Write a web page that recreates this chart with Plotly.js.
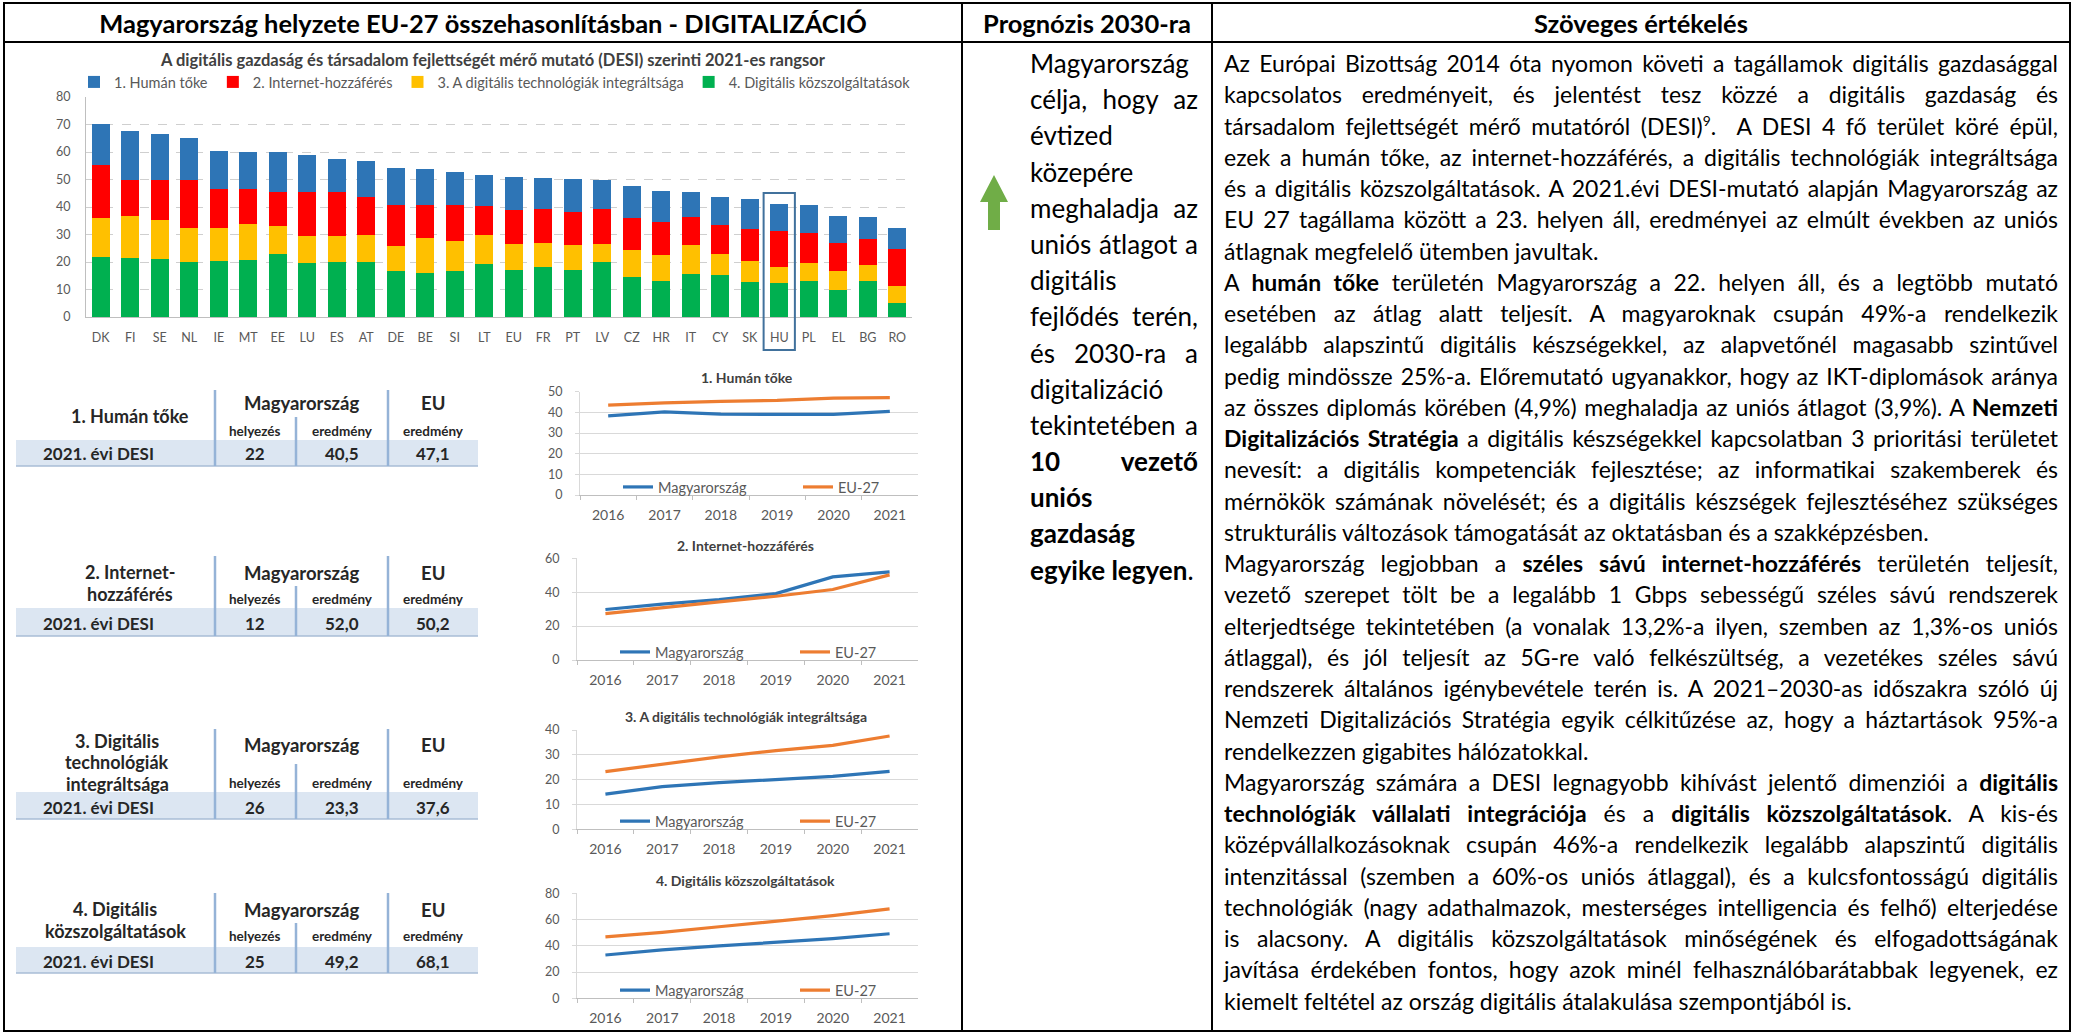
<!DOCTYPE html>
<html lang="hu">
<head>
<meta charset="utf-8">
<title>Magyarország helyzete EU-27 összehasonlításban - DIGITALIZÁCIÓ</title>
<script src="https://cdn.plot.ly/plotly-3.0.1.min.js"></script>
<style>
html,body{margin:0;padding:0;background:#fff;}
#page{position:relative;width:2074px;height:1035px;overflow:hidden;background:#fff;font-family:Lato,"Open Sans",sans-serif;}
#plot{position:absolute;left:0;top:0;width:2074px;height:1035px;}
#overlay{position:absolute;left:0;top:0;width:2074px;height:1035px;pointer-events:none;}
.rule{position:absolute;background:#000;}
.hdr{position:absolute;top:3px;height:39px;display:flex;align-items:center;justify-content:center;font-weight:700;white-space:nowrap;color:#000;}
.col{position:absolute;color:#000;}
.ln{text-align:justify;text-align-last:justify;overflow:visible;}
.ln.last{text-align-last:left;}
.measure .ln{white-space:nowrap;text-align:left !important;text-align-last:left !important;}
sup{font-size:0.6em;line-height:0;vertical-align:super;}
</style>
</head>
<body>
<div id="page">
  <div id="plot"></div>
  <div id="overlay">
    <div class="rule" style="left:3px;top:2px;width:2068px;height:2px"></div>
    <div class="rule" style="left:3px;top:1030px;width:2068px;height:2px"></div>
    <div class="rule" style="left:3px;top:2px;width:2px;height:1030px"></div>
    <div class="rule" style="left:2069px;top:2px;width:2px;height:1030px"></div>
    <div class="rule" style="left:3px;top:41px;width:2068px;height:2px"></div>
    <div class="rule" style="left:961px;top:2px;width:2px;height:1030px"></div>
    <div class="rule" style="left:1211px;top:2px;width:2px;height:1030px"></div>
    <div class="hdr" style="left:5px;width:956px"><span>Magyarország helyzete EU-27 összehasonlításban - DIGITALIZÁCIÓ</span></div>
    <div class="hdr" style="left:963px;width:248px"><span>Prognózis 2030-ra</span></div>
    <div class="hdr" style="left:1213px;width:856px"><span>Szöveges értékelés</span></div>
    <svg style="position:absolute;left:975px;top:170px" width="40" height="66" viewBox="975 170 40 66">
      <polygon points="994,175 980,202 988,202 988,230 1000,230 1000,202 1008,202" fill="#70AD47"/>
    </svg>
    <div id="mid" class="col" style="left:1030px;top:45px;width:168px"></div>
    <div id="txt" class="col" style="left:1224px;top:48px;width:834px"></div>
  </div>
</div>
<script>
// ---------------- DATA ----------------
const countries = ["DK","FI","SE","NL","IE","MT","EE","LU","ES","AT","DE","BE","SI","LT","EU","FR","PT","LV","CZ","HR","IT","CY","SK","HU","PL","EL","BG","RO"];
const humanCapital   = [14.9,17.7,16.5,15.2,13.6,13.3,14.6,13.7,12.1,13.2,13.4,13.1,12.1,11.4,11.8,11.4,12.0,10.6,11.7,11.2, 9.1,10.2,10.9,10.1,10.0, 9.7, 8.2, 7.6];
const connectivity   = [19.1,13.1,14.7,17.7,14.4,13.0,12.2,16.0,15.8,13.8,15.0,12.0,13.2,10.5,12.6,12.3,12.0,12.6,11.7,12.2,10.3,10.4,11.5,13.0,10.9,10.3, 9.3,13.5];
const integration    = [14.3,15.3,14.2,12.4,12.1,12.9,10.1, 9.7, 9.6,10.0, 8.8,12.7,10.6,10.5, 9.4, 8.8, 9.1, 6.7, 9.6, 9.4,10.4, 7.8, 7.6, 5.8, 6.7, 6.7, 5.7, 5.9];
const publicServices = [21.8,21.4,21.1,19.9,20.2,20.8,23.0,19.6,19.9,19.9,16.9,16.0,16.9,19.4,17.0,18.1,17.2,19.9,14.6,13.0,15.7,15.1,12.8,12.3,13.0,10.0,13.2, 5.2];
const segmentNames = ["1. Humán tőke","2. Internet-hozzáférés","3. A digitális technológiák integráltsága","4. Digitális közszolgáltatások"];
const barTitle = "A digitális gazdaság és társadalom fejlettségét mérő mutató (DESI) szerinti 2021-es rangsor";
const highlightCountry = "HU";

const years = ["2016","2017","2018","2019","2020","2021"];
const lineTitles = ["1. Humán tőke","2. Internet-hozzáférés","3. A digitális technológiák integráltsága","4. Digitális közszolgáltatások"];
const seriesNames = ["Magyarország","EU-27"];
const huHuman    = [38.3, 40.2, 39.1, 39.0, 39.0, 40.5];
const euHuman    = [43.5, 44.6, 45.3, 45.8, 46.9, 47.1];
const huInternet = [29.8, 33.0, 35.7, 39.2, 49.0, 52.0];
const euInternet = [27.4, 31.0, 34.3, 37.6, 41.6, 50.2];
const huIntegr   = [14.2, 17.2, 18.8, 20.2, 21.3, 23.3];
const euIntegr   = [23.2, 26.3, 29.2, 31.7, 33.8, 37.6];
const huPublic   = [33.0, 36.9, 39.9, 42.5, 45.5, 49.2];
const euPublic   = [46.8, 50.2, 54.5, 58.5, 63.0, 68.1];

const tableLabels = ["1. Humán tőke","2. Internet-|hozzáférés","3. Digitális|technológiák|integráltsága","4. Digitális|közszolgáltatások"];
const tableRowLabel = "2021. évi DESI";
const tableHead = ["Magyarország","EU"];
const tableSub = ["helyezés","eredmény","eredmény"];
const huRank  = ["22","12","26","25"];
const huScore = ["40,5","52,0","23,3","49,2"];
const euScore = ["47,1","50,2","37,6","68,1"];

const progLines = ["Magyarország","célja, hogy az","évtized","közepére","meghaladja az","uniós átlagot a","digitális","fejlődés terén,","és 2030-ra a","digitalizáció","tekintetében a","<b>10 vezető</b>","<b>uniós</b>","<b>gazdaság</b>","<b>egyike legyen</b>."];
const evalLines = [
 "Az Európai Bizottság 2014 óta nyomon követi a tagállamok digitális gazdasággal",
 "kapcsolatos eredményeit, és jelentést tesz közzé a digitális gazdaság és",
 "társadalom fejlettségét mérő mutatóról (DESI)<sup>9</sup>.&nbsp; A DESI 4 fő terület köré épül,",
 "ezek a humán tőke, az internet-hozzáférés, a digitális technológiák integráltsága",
 "és a digitális közszolgáltatások. A 2021.évi DESI-mutató alapján Magyarország az",
 "EU 27 tagállama között a 23. helyen áll, eredményei az elmúlt években az uniós",
 "átlagnak megfelelő ütemben javultak.",
 "A <b>humán tőke</b> területén Magyarország a 22. helyen áll, és a legtöbb mutató",
 "esetében az átlag alatt teljesít. A magyaroknak csupán 49%-a rendelkezik",
 "legalább alapszintű digitális készségekkel, az alapvetőnél magasabb szintűvel",
 "pedig mindössze 25%-a. Előremutató ugyanakkor, hogy az IKT-diplomások aránya",
 "az összes diplomás körében (4,9%) meghaladja az uniós átlagot (3,9%). A <b>Nemzeti</b>",
 "<b>Digitalizációs Stratégia</b> a digitális készségekkel kapcsolatban 3 prioritási területet",
 "nevesít: a digitális kompetenciák fejlesztése; az informatikai szakemberek és",
 "mérnökök számának növelését; és a digitális készségek fejlesztéséhez szükséges",
 "strukturális változások támogatását az oktatásban és a szakképzésben.",
 "Magyarország legjobban a <b>széles sávú internet-hozzáférés</b> területén teljesít,",
 "vezető szerepet tölt be a legalább 1 Gbps sebességű széles sávú rendszerek",
 "elterjedtsége tekintetében (a vonalak 13,2%-a ilyen, szemben az 1,3%-os uniós",
 "átlaggal), és jól teljesít az 5G-re való felkészültség, a vezetékes széles sávú",
 "rendszerek általános igénybevétele terén is. A 2021–2030-as időszakra szóló új",
 "Nemzeti Digitalizációs Stratégia egyik célkitűzése az, hogy a háztartások 95%-a",
 "rendelkezzen gigabites hálózatokkal.",
 "Magyarország számára a DESI legnagyobb kihívást jelentő dimenziói a <b>digitális</b>",
 "<b>technológiák vállalati integrációja</b> és a <b>digitális közszolgáltatások</b>. A kis-és",
 "középvállalkozásoknak csupán 46%-a rendelkezik legalább alapszintű digitális",
 "intenzitással (szemben a 60%-os uniós átlaggal), és a kulcsfontosságú digitális",
 "technológiák (nagy adathalmazok, mesterséges intelligencia és felhő) elterjedése",
 "is alacsony. A digitális közszolgáltatások minőségének és elfogadottságának",
 "javítása érdekében fontos, hogy azok minél felhasználóbarátabbak legyenek, ez",
 "kiemelt feltétel az ország digitális átalakulása szempontjából is."
];
const evalParaEnds = [6,15,22,30];
const progParaEnds = [14];

// ---------------- TEXT COLUMNS ----------------
function buildCol(el, lines, lastIdx, lineH){
  el.classList.add('measure');
  el.innerHTML = lines.map((t,i)=>'<div class="ln'+(lastIdx.indexOf(i)>=0?' last':'')+'" style="height:'+lineH+'px;line-height:'+lineH+'px"><span>'+t+'</span></div>').join('');
}
function spanWidths(el){ return Array.from(el.querySelectorAll('.ln span')).map(s=>s.getBoundingClientRect().width); }
function squeeze(el, limit){
  el.querySelectorAll('.ln span').forEach(s=>{
    const w = s.getBoundingClientRect().width;
    if (w > limit){ const n = s.textContent.length; s.style.letterSpacing = ((limit-w)/n)+'px'; }
  });
}

(function(){
  const hs = document.querySelectorAll('.hdr span');
  hs.forEach(s=>s.style.fontSize='24px');
  const w0 = hs[0].getBoundingClientRect().width;
  const f = 24*768/w0;
  hs.forEach(s=>s.style.fontSize=f+'px');

  const txt = document.getElementById('txt');
  buildCol(txt, evalLines, evalParaEnds, 31.25);
  txt.style.fontSize='20px';
  let ws = spanWidths(txt).filter((w,i)=>evalParaEnds.indexOf(i)<0).sort((a,b)=>a-b);
  const median = ws[Math.floor(ws.length/2)];
  let ft = Math.min(20*0.965*834/median, 23);
  txt.style.fontSize = ft+'px';
  squeeze(txt, 834*0.993);
  txt.classList.remove('measure');

  const mid = document.getElementById('mid');
  buildCol(mid, progLines, progParaEnds, 36.2);
  mid.style.fontSize='24px';
  ws = spanWidths(mid);
  let fm = 24*159/ws[0];
  mid.style.fontSize = fm+'px';
  squeeze(mid, 168*0.99);
  mid.classList.remove('measure');
})();

// ---------------- PLOTLY ----------------
const W = 2074, H = 1035;
const px = x => x/W, py = y => 1 - y/H;

const segData = [humanCapital, connectivity, integration, publicServices];
const segColors = ["#2E75B6","#FF0000","#FFC000","#00B050"];
const blue = "#2E75B6", orange = "#ED7D31";
const gridC = "#d9d9d9", tickC = "#595959";

const traces = [];
[3,2,1,0].forEach(i=>{
  traces.push({type:'bar', x:countries, y:segData[i], name:segmentNames[i], marker:{color:segColors[i]},
    xaxis:'x', yaxis:'y', legend:'legend', hoverinfo:'skip'});
});

const lineHU = [huHuman, huInternet, huIntegr, huPublic];
const lineEU = [euHuman, euInternet, euIntegr, euPublic];
const boxes = [
  {l:580, r:918, t:391.7, b:495,   title:377, ymax:50, dt:10},
  {l:577, r:918, t:558.3, b:660,   title:545, ymax:60, dt:20},
  {l:577, r:918, t:730,   b:829.3, title:716, ymax:40, dt:10},
  {l:577, r:918, t:893.3, b:998.3, title:880, ymax:80, dt:20}
];

const barX = [86, 912], barY = [97, 317];
const layout = {
  width:W, height:H, margin:{l:0,r:0,t:0,b:0,pad:0},
  paper_bgcolor:'rgba(0,0,0,0)', plot_bgcolor:'rgba(0,0,0,0)',
  font:{family:'Lato, "Open Sans", sans-serif', color:tickC},
  barmode:'stack', bargap:0.38, showlegend:true,
  xaxis:{domain:[px(barX[0]),px(barX[1])], type:'category', range:[-0.5, countries.length-0.5], anchor:'y',
    showgrid:false, showline:true, linecolor:'#bfbfbf', linewidth:1, ticks:'', tickfont:{size:12.5,color:tickC}, ticklabelstandoff:9, fixedrange:true},
  yaxis:{domain:[py(barY[1]),py(barY[0])], range:[0,80], dtick:10, anchor:'x',
    showgrid:true, gridcolor:'#cfcfcf', griddash:'dash', gridwidth:1, zeroline:false, showline:true, linecolor:'#bfbfbf',
    ticks:'', tickfont:{size:12.5,color:tickC}, ticklabelstandoff:12, fixedrange:true},
  legend:{orientation:'h', x:px(74), xanchor:'left', y:py(82), yanchor:'middle', traceorder:'reversed',
    font:{size:14.5,color:tickC}, bgcolor:'rgba(0,0,0,0)', itemwidth:30},
  annotations:[], shapes:[]
};

layout.annotations.push({xref:'paper', yref:'paper', x:px(493), y:py(60), xanchor:'center', yanchor:'middle',
  text:'<b>'+barTitle+'</b>', showarrow:false, font:{size:16.5, color:'#404040'}});

// HU highlight box
(function(){
  const idx = countries.indexOf(highlightCountry);
  const d = layout.xaxis.domain, n = countries.length;
  const cx = d[0] + (idx+0.5)/n*(d[1]-d[0]);
  const hw = 0.53/n*(d[1]-d[0]);
  layout.shapes.push({type:'rect', xref:'paper', yref:'paper', x0:cx-hw, x1:cx+hw, y0:py(350), y1:py(193),
    line:{color:'#41719C', width:2}, fillcolor:'rgba(0,0,0,0)', layer:'above'});
})();

boxes.forEach((bx,c)=>{
  const k = c+2;
  traces.push({type:'scatter', mode:'lines', x:years, y:lineHU[c], name:seriesNames[0], line:{color:blue, width:3.2},
    xaxis:'x'+k, yaxis:'y'+k, legend:'legend'+k, hoverinfo:'skip'});
  traces.push({type:'scatter', mode:'lines', x:years, y:lineEU[c], name:seriesNames[1], line:{color:orange, width:3.2},
    xaxis:'x'+k, yaxis:'y'+k, legend:'legend'+k, hoverinfo:'skip'});
  layout['xaxis'+k] = {domain:[px(bx.l),px(bx.r)], type:'category', range:[-0.5, years.length-0.5], anchor:'y'+k,
    showgrid:false, showline:true, linecolor:'#bfbfbf', ticks:'outside', ticklen:4, tickcolor:'#bfbfbf', tickson:'boundaries',
    tickfont:{size:14,color:tickC}, ticklabelstandoff:7, fixedrange:true};
  layout['yaxis'+k] = {domain:[py(bx.b),py(bx.t)], range:[0,bx.ymax], dtick:bx.dt, anchor:'x'+k,
    showgrid:true, gridcolor:gridC, gridwidth:1, zeroline:false, showline:true, linecolor:'#d9d9d9',
    ticks:'outside', ticklen:4, tickcolor:'#d9d9d9', tickfont:{size:12.5,color:tickC}, ticklabelstandoff:10, fixedrange:true};
  layout['legend'+k] = {orientation:'h', x:px(bx.l+38), xanchor:'left', y:py(bx.b-8), yanchor:'middle',
    font:{size:14.5,color:tickC}, bgcolor:'rgba(0,0,0,0)', entrywidth:135, entrywidthmode:'pixels', traceorder:'normal'};
  layout.annotations.push({xref:'paper', yref:'paper', x:px((bx.l+bx.r)/2-2), y:py(bx.title), xanchor:'center', yanchor:'middle',
    text:'<b>'+lineTitles[c]+'</b>', showarrow:false, font:{size:14,color:'#404040'}});
});

// ---- tables ----
const tblCols = {v1:215, inner:296, v2:388, bandL:16, bandR:478, rank:255, hu:342, eu:433, mag:301, rowLab:98};
const tblBoxes = [
  {top:390, hdr:403, sub:431, bandT:440, bandB:466, row:453, labY:416, labX:130},
  {top:556, hdr:573, sub:599, bandT:608, bandB:636, row:623, labY:583, labX:130},
  {top:729, hdr:745, sub:783, bandT:792, bandB:819, row:807, labY:762, labX:117},
  {top:893, hdr:910, sub:936, bandT:947, bandB:973, row:961, labY:920, labX:115}
];
const tTxt = '#262626';
function ann(x,y,text,size){
  layout.annotations.push({xref:'paper', yref:'paper', x:px(x), y:py(y), xanchor:'center', yanchor:'middle',
    text:'<b>'+text+'</b>', showarrow:false, font:{size:size, color:tTxt}});
}
function vline(x,y0,y1,color,w){
  layout.shapes.push({type:'line', xref:'paper', yref:'paper', x0:px(x), x1:px(x), y0:py(y0), y1:py(y1), line:{color:color,width:w}, layer:'above'});
}
tblBoxes.forEach((tb,i)=>{
  layout.shapes.push({type:'rect', xref:'paper', yref:'paper', x0:px(tblCols.bandL), x1:px(tblCols.bandR), y0:py(tb.bandB), y1:py(tb.bandT),
    fillcolor:'#dce6f2', line:{width:0}, layer:'below'});
  layout.shapes.push({type:'line', xref:'paper', yref:'paper', x0:px(tblCols.bandL), x1:px(tblCols.bandR), y0:py(tb.bandB), y1:py(tb.bandB),
    line:{color:'#a9bcd6', width:1.5}, layer:'above'});
  vline(tblCols.v1, tb.top, tb.bandB, '#95b3d7', 2.5);
  vline(tblCols.v2, tb.top, tb.bandB, '#95b3d7', 2.5);
  vline(tblCols.inner, (tb.hdr+tb.sub)/2, tb.bandB, '#95b3d7', 2.5);
  const parts = tableLabels[i].split('|');
  parts.forEach((p,j)=>ann(tb.labX, tb.labY + (j-(parts.length-1)/2)*21.5, p, 18));
  ann(tblCols.mag, tb.hdr, tableHead[0], 18.5);
  ann(tblCols.eu, tb.hdr, tableHead[1], 18.5);
  ann(tblCols.rank, tb.sub, tableSub[0], 13.5);
  ann(tblCols.hu, tb.sub, tableSub[1], 13.5);
  ann(tblCols.eu, tb.sub, tableSub[2], 13.5);
  ann(tblCols.rowLab, tb.row, tableRowLabel, 17);
  ann(tblCols.rank, tb.row, huRank[i], 17);
  ann(tblCols.hu, tb.row, huScore[i], 17);
  ann(tblCols.eu, tb.row, euScore[i], 17);
});

Plotly.newPlot('plot', traces, layout, {staticPlot:true, displayModeBar:false});
</script>
</body>
</html>
